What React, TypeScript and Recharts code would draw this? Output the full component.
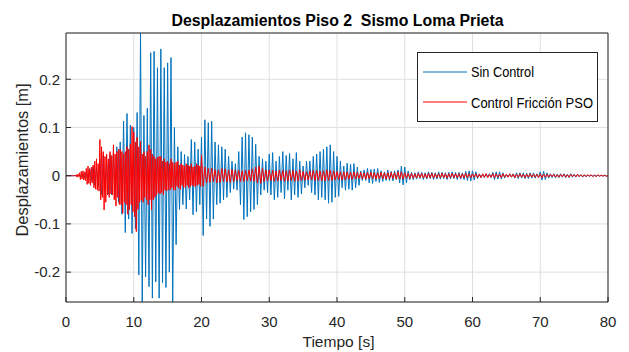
import { LineChart, Line, XAxis, YAxis, CartesianGrid } from "recharts";

const TEXT = "#262626";
const GRID = "#dfdfdf";
const BLUE = "#0072bd";
const RED = "#ff0000";
const FONT = "'Liberation Sans', Arial, sans-serif";

const xTicks = [0, 10, 20, 30, 40, 50, 60, 70, 80];
const yTicks = [-0.2, -0.1, 0, 0.1, 0.2];
const yRange = [-0.262, 0.296];

// Sin Control: peaks read every 0.25 s, 0..80 s
const sinStep = 0.25;
const sinControl = [
  0, 0, 0, 0, 0, 0, 0, 0, 0.001, -0.002, 0.003, -0.004, 0.008, -0.012, 0.015, -0.01, 0.018, -0.02, 0.016, -0.022,
  0.035, -0.04, 0.042, -0.03, 0.03, -0.038, 0.045, -0.04, 0.05, -0.045, 0.06, -0.055, 0.07, -0.08, 0.113, -0.118, 0.129, -0.09, 0.105, -0.12,
  0.1, -0.11, 0.131, -0.206, 0.296, -0.262, 0.125, -0.21, 0.14, -0.23, 0.255, -0.254, 0.258, -0.22, 0.224, -0.254, 0.263, -0.222, 0.224, -0.232,
  0.234, -0.2, 0.245, -0.262, 0.1, -0.143, 0.06, -0.07, 0.05, -0.06, 0.044, -0.069, 0.04, -0.05, 0.075, -0.081, 0.07, -0.075, 0.055, -0.06,
  0.08, -0.124, 0.116, -0.09, 0.11, -0.105, 0.113, -0.09, 0.07, -0.06, 0.064, -0.057, 0.06, -0.05, 0.055, -0.045, 0.04, -0.035, 0.03, -0.028,
  0.025, -0.03, 0.05, -0.06, 0.08, -0.091, 0.089, -0.085, 0.085, -0.075, 0.08, -0.07, 0.065, -0.06, 0.04, -0.04, 0.035, -0.03, 0.03, -0.035,
  0.045, -0.04, 0.048, -0.05, 0.03, -0.045, 0.04, -0.035, 0.05, -0.048, 0.042, -0.03, 0.046, -0.05, 0.035, -0.04, 0.048, -0.045, 0.03, -0.038,
  0.02, -0.025, 0.03, -0.02, 0.03, -0.035, 0.04, -0.04, 0.045, -0.05, 0.05, -0.045, 0.055, -0.05, 0.06, -0.057, 0.064, -0.055, 0.05, -0.045,
  0.04, -0.043, 0.03, -0.025, 0.02, -0.03, 0.026, -0.028, 0.024, -0.03, 0.025, -0.025, 0.018, -0.02, 0.01, -0.01, 0.012, -0.01, 0.015, -0.015,
  0.013, -0.016, 0.014, -0.012, 0.015, -0.014, 0.01, -0.012, 0.008, -0.01, 0.012, -0.01, 0.009, -0.011, 0.01, -0.008, 0.012, -0.015, 0.02, -0.019,
  0.018, -0.015, 0.01, -0.008, 0.007, -0.008, 0.006, -0.007, 0.008, -0.006, 0.007, -0.008, 0.006, -0.007, 0.008, -0.006, 0.007, -0.008, 0.006, -0.007,
  0.008, -0.007, 0.007, -0.006, 0.006, -0.008, 0.007, -0.007, 0.008, -0.006, 0.007, -0.008, 0.007, -0.007, 0.006, -0.008, 0.009, -0.01, 0.01, -0.011,
  0.01, -0.009, 0.008, -0.006, 0.004, -0.004, 0.003, -0.004, 0.004, -0.003, 0.004, -0.004, 0.007, -0.008, 0.008, -0.007, 0.008, -0.007, 0.006, -0.005,
  0.003, -0.003, 0.004, -0.003, 0.004, -0.005, 0.006, -0.006, 0.006, -0.005, 0.006, -0.006, 0.005, -0.006, 0.006, -0.005, 0.006, -0.005, 0.004, -0.004,
  0.008, -0.009, 0.009, -0.008, 0.006, -0.005, 0.004, -0.004, 0.004, -0.004, 0.003, -0.004, 0.004, -0.003, 0.004, -0.004, 0.003, -0.004, 0.004, -0.003,
  0.003, -0.003, 0.003, -0.002, 0.002, -0.003, 0.002, -0.002, 0.001, -0.001, 0.001, -0.001, 0.001, -0.001, 0.001, -0.001, 0.001, -0.001, 0.001, -0.001,
  0,
];

// Control Fricción PSO: 0..20 s every 0.125 s
const psoEarlyStep = 0.125;
const psoEarly = [
  0, 0, 0, 0, 0, 0, 0, 0, 0, 0, 0, 0, 0.002, -0.003, 0.003, -0.002,
  0.006, -0.008, 0.009, -0.007, 0.01, -0.009, 0.008, -0.01, 0.015, -0.018, 0.02, -0.016, 0.014, -0.02, 0.018, -0.015,
  0.022, -0.025, 0.03, -0.028, 0.035, -0.03, 0.025, -0.032,
  0.075, -0.05, 0.06, -0.045, 0.05, -0.071, 0.04, -0.055, 0.045, -0.04, 0.035, -0.045, 0.05, -0.038, 0.042, -0.04,
  0.064, -0.05, 0.045, -0.063, 0.05, -0.045, 0.055, -0.06, 0.055, -0.06, 0.05, -0.078, 0.045, -0.055, 0.05, -0.06,
  0.06, -0.08, 0.055, -0.07, 0.065, -0.06, 0.102, -0.075,
  0.09, -0.085, 0.07, -0.116, 0.08, -0.07, 0.06, -0.055, 0.071, -0.05, 0.045, -0.055, 0.05, -0.045, 0.04, -0.05,
  0.05, -0.06, 0.064, -0.05, 0.055, -0.071, 0.045, -0.05, 0.04, -0.045, 0.035, -0.04, 0.038, -0.035, 0.04, -0.038,
  0.04, -0.035, 0.03, -0.04, 0.035, -0.03, 0.028, -0.032,
  0.03, -0.028, 0.025, -0.03, 0.035, -0.025, 0.028, -0.03, 0.025, -0.03, 0.028, -0.022, 0.03, -0.025, 0.022, -0.028,
  0.025, -0.02, 0.022, -0.025, 0.02, -0.024, 0.025, -0.02, 0.022, -0.025, 0.02, -0.022, 0.025, -0.02, 0.018, -0.022,
  0.02, -0.022, 0.025, -0.02, 0.022, -0.018, 0.02, -0.022,
];

// Control Fricción PSO: 20..80 s every 0.25 s
const psoLateStart = 20;
const psoLateStep = 0.25;
const psoLate = [
  0.042, -0.022, 0.018, -0.015, 0.015, -0.014, 0.016, -0.012, 0.013, -0.015, 0.012, -0.014, 0.015, -0.012, 0.014, -0.013, 0.012, -0.014, 0.013, -0.012,
  0.012, -0.01, 0.011, -0.012, 0.01, -0.012, 0.011, -0.01, 0.012, -0.011, 0.014, -0.012, 0.018, -0.015, 0.02, -0.016, 0.015, -0.012, 0.012, -0.011,
  0.012, -0.01, 0.011, -0.012, 0.01, -0.011, 0.012, -0.01, 0.011, -0.012, 0.01, -0.011, 0.012, -0.01, 0.011, -0.012, 0.01, -0.011, 0.012, -0.01,
  0.009, -0.01, 0.008, -0.009, 0.01, -0.009, 0.011, -0.01, 0.011, -0.01, 0.01, -0.011, 0.01, -0.011, 0.012, -0.01, 0.011, -0.01, 0.01, -0.009,
  0.009, -0.008, 0.008, -0.009, 0.008, -0.009, 0.008, -0.007, 0.007, -0.008, 0.008, -0.007, 0.007, -0.006, 0.007, -0.007, 0.006, -0.007, 0.007, -0.006,
  0.007, -0.006, 0.006, -0.007, 0.006, -0.006, 0.007, -0.006, 0.006, -0.007, 0.006, -0.006, 0.007, -0.006, 0.006, -0.007, 0.008, -0.007, 0.008, -0.007,
  0.006, -0.005, 0.005, -0.006, 0.005, -0.005, 0.004, -0.005, 0.005, -0.004, 0.005, -0.005, 0.004, -0.005, 0.005, -0.004, 0.005, -0.005, 0.004, -0.004,
  0.004, -0.004, 0.005, -0.004, 0.004, -0.005, 0.004, -0.004, 0.005, -0.004, 0.004, -0.004, 0.004, -0.005, 0.004, -0.004, 0.005, -0.004, 0.004, -0.004,
  0.004, -0.003, 0.004, -0.004, 0.003, -0.004, 0.004, -0.003, 0.004, -0.004, 0.003, -0.003, 0.004, -0.004, 0.004, -0.003, 0.003, -0.004, 0.004, -0.003,
  0.003, -0.003, 0.004, -0.003, 0.003, -0.004, 0.003, -0.003, 0.004, -0.003, 0.003, -0.004, 0.003, -0.003, 0.004, -0.003, 0.003, -0.003, 0.003, -0.004,
  0.004, -0.004, 0.003, -0.003, 0.003, -0.003, 0.003, -0.002, 0.003, -0.003, 0.002, -0.003, 0.003, -0.002, 0.003, -0.003, 0.002, -0.003, 0.003, -0.002,
  0.002, -0.002, 0.003, -0.002, 0.002, -0.002, 0.002, -0.002, 0.002, -0.001, 0.002, -0.002, 0.001, -0.002, 0.002, -0.001, 0.001, -0.001, 0.001, -0.001,
  0,
];

const sinData = sinControl.map((d, i) => ({ t: i * sinStep, d }));
const psoData = [
  ...psoEarly.map((d, i) => ({ t: i * psoEarlyStep, d })),
  ...psoLate.map((d, i) => ({ t: psoLateStart + i * psoLateStep, d })),
];

const tickStyle = { fontSize: 15, fill: TEXT, fontFamily: FONT };

export default function App() {
  return (
    <div style={{ position: "absolute", left: 0, top: 0, width: 629, height: 352, background: "#fff" }}>
      <LineChart width={629} height={352} margin={{ top: 32, right: 20, left: 0, bottom: 0 }}>
        <CartesianGrid stroke={GRID} />
        <XAxis
          dataKey="t"
          type="number"
          domain={[0, 80]}
          ticks={xTicks}
          allowDataOverflow
          height={50}
          stroke={TEXT}
          tickSize={-5}
          tickMargin={19}
          tick={tickStyle}
        />
        <XAxis xAxisId="top" orientation="top" type="number" domain={[0, 80]} ticks={xTicks} height={1} stroke={TEXT} tickSize={-5} tick={false} />
        <YAxis
          type="number"
          domain={yRange}
          ticks={yTicks}
          allowDataOverflow
          width={66}
          stroke={TEXT}
          tickSize={-5}
          tickMargin={11}
          tick={tickStyle}
          tickFormatter={(v: number) => String(v)}
        />
        <YAxis yAxisId="r" orientation="right" type="number" domain={yRange} ticks={yTicks} width={1} stroke={TEXT} tickSize={-5} tick={false} />
        <Line data={sinData} dataKey="d" type="linear" stroke={BLUE} strokeWidth={1} dot={false} isAnimationActive={false} />
        <Line data={psoData} dataKey="d" type="linear" stroke={RED} strokeWidth={1} dot={false} isAnimationActive={false} />
      </LineChart>
      <svg width={629} height={352} style={{ position: "absolute", left: 0, top: 0, pointerEvents: "none" }} fontFamily={FONT}>
        <text x={337.5} y={26} textAnchor="middle" fontSize={16} fontWeight="bold" fill="#000" textLength={332} lengthAdjust="spacingAndGlyphs" xmlSpace="preserve">
          Desplazamientos Piso 2  Sismo Loma Prieta
        </text>
        <text x={338.5} y={347} textAnchor="middle" fontSize={15} fill={TEXT} textLength={72} lengthAdjust="spacingAndGlyphs">
          Tiempo [s]
        </text>
        <text x={28} y={160} transform="rotate(-90 28 160)" textAnchor="middle" fontSize={16} fill={TEXT} textLength={153} lengthAdjust="spacingAndGlyphs">
          Desplazamientos [m]
        </text>
        <rect x={417.5} y={52.5} width={180} height={69} fill="#fff" stroke={TEXT} />
        <line x1={423} x2={467} y1={72} y2={72} stroke={BLUE} />
        <line x1={423} x2={467} y1={102} y2={102} stroke={RED} />
        <text x={471} y={77} fontSize={15} fill="#000" textLength={63} lengthAdjust="spacingAndGlyphs">
          Sin Control
        </text>
        <text x={471} y={108} fontSize={15} fill="#000" textLength={122} lengthAdjust="spacingAndGlyphs">
          Control Fricción PSO
        </text>
      </svg>
    </div>
  );
}
